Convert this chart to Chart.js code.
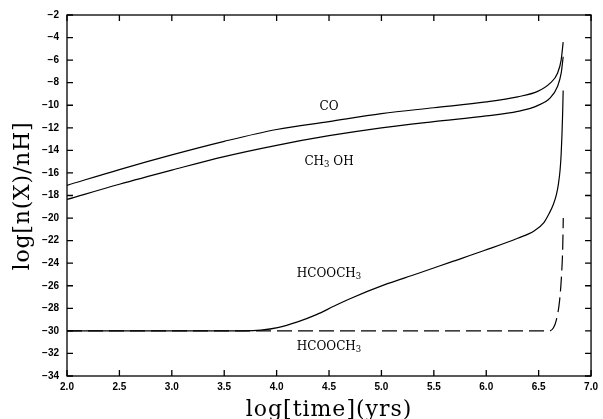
<!DOCTYPE html>
<html>
<head>
<meta charset="utf-8">
<script src="https://cdn.jsdelivr.net/npm/chart.js@4.4.1/dist/chart.umd.min.js"></script>
<style>
  html, body { margin: 0; padding: 0; background: #fff; }
  #wrap { width: 603px; height: 419px; position: relative; }
</style>
</head>
<body>
<div id="wrap"><canvas id="chart"></canvas></div>
<script>
'use strict';

// ── Data ─────────────────────────────────────────────────────────
const coTime     = [2.0, 2.5, 3.0, 3.5, 4.0, 4.5, 5.0, 5.5, 6.0, 6.3, 6.49, 6.61, 6.68, 6.715, 6.734];
const coAbund    = [-17.1, -15.7, -14.4, -13.2, -12.15, -11.45, -10.75, -10.22, -9.7, -9.25, -8.77, -8.04, -7.16, -5.97, -4.4];

const ch3ohTime  = [2.0, 2.5, 3.0, 3.5, 4.0, 4.5, 5.0, 5.5, 6.0, 6.3, 6.49, 6.61, 6.68, 6.715, 6.734];
const ch3ohAbund = [-18.35, -17.0, -15.75, -14.55, -13.55, -12.7, -12.0, -11.45, -10.95, -10.55, -10.03, -9.35, -8.33, -7.16, -5.7];

const mfTime     = [2.0, 3.7, 3.85, 4.01, 4.2, 4.38, 4.55, 4.7, 5.02, 5.34, 5.66, 5.98, 6.3, 6.46, 6.55, 6.6, 6.64, 6.67, 6.69, 6.705, 6.715, 6.723, 6.729, 6.734];
const mfAbund    = [-30, -30, -29.93, -29.71, -29.2, -28.56, -27.8, -27.15, -25.95, -24.94, -23.91, -22.88, -21.79, -21.12, -20.4, -19.6, -18.8, -17.9, -16.9, -15.7, -14.3, -12.5, -10.7, -8.7];

const mfDashTime  = [2.0, 6.6, 6.64, 6.67, 6.7, 6.72, 6.73, 6.735];
const mfDashAbund = [-30, -30, -29.75, -29.0, -27.3, -24.8, -22.5, -20.0];

const xRange = [2, 7];
const yRange = [-34, -2];
const xStep = 0.5;
const yStep = 2;

// curve labels: text, subscript, tail, anchored at (time, abundance)
const curveLabels = [
    { main: 'CO',     sub: '',  tail: '',    x: 4.5, y: -10.1 },
    { main: 'CH',     sub: '3', tail: ' OH', x: 4.5, y: -15.05 },
    { main: 'HCOOCH', sub: '3', tail: '',    x: 4.5, y: -24.95 },
    { main: 'HCOOCH', sub: '3', tail: '',    x: 4.5, y: -31.45 },
];

const toPoints = (xs, ys) => xs.map((x, i) => ({ x, y: ys[i] }));

// ── Frame, inward ticks, labels and titles ───────────────────────
const framePlugin = {
    id: 'frame',
    afterDraw(chart) {
        const { ctx, chartArea: a, scales: { x, y } } = chart;
        ctx.save();
        ctx.strokeStyle = '#000';
        ctx.lineWidth = 1.3;
        ctx.strokeRect(a.left, a.top, a.right - a.left, a.bottom - a.top);

        ctx.beginPath();
        x.ticks.forEach(t => {
            const px = x.getPixelForValue(t.value);
            ctx.moveTo(px, a.bottom); ctx.lineTo(px, a.bottom - 6);
            ctx.moveTo(px, a.top);    ctx.lineTo(px, a.top + 6);
        });
        y.ticks.forEach(t => {
            const py = y.getPixelForValue(t.value);
            ctx.moveTo(a.left, py);  ctx.lineTo(a.left + 6, py);
            ctx.moveTo(a.right, py); ctx.lineTo(a.right - 6, py);
        });
        ctx.stroke();

        // species labels
        ctx.fillStyle = '#000';
        ctx.textBaseline = 'middle';
        ctx.textAlign = 'left';
        curveLabels.forEach(l => {
            const big = '12px "DejaVu Serif"';
            const small = '8.5px "DejaVu Serif"';
            ctx.font = big;
            const w1 = ctx.measureText(l.main).width;
            const w3 = ctx.measureText(l.tail).width;
            ctx.font = small;
            const w2 = ctx.measureText(l.sub).width;
            const cx = x.getPixelForValue(l.x);
            const cy = y.getPixelForValue(l.y);
            let px = cx - (w1 + w2 + w3) / 2;
            ctx.font = big;
            ctx.fillText(l.main, px, cy);
            px += w1;
            if (l.sub) {
                ctx.font = small;
                ctx.fillText(l.sub, px, cy + 3);
                px += w2;
            }
            ctx.font = big;
            if (l.tail) ctx.fillText(l.tail, px, cy);
        });

        // axis titles
        ctx.font = '22px "DejaVu Serif"';
        ctx.textAlign = 'center';
        ctx.textBaseline = 'alphabetic';
        ctx.letterSpacing = '1px';
        ctx.fillText('log[time](yrs)', (a.left + a.right) / 2, 416);

        ctx.letterSpacing = '0.8px';
        ctx.translate(29, 196);
        ctx.rotate(-Math.PI / 2);
        ctx.fillText('log[n(X)/nH]', 0, 0);
        ctx.restore();
    }
};

// ── Chart ────────────────────────────────────────────────────────
const lineStyle = {
    borderColor: '#000',
    borderWidth: 1.2,
    pointRadius: 0,
    fill: false,
    cubicInterpolationMode: 'monotone',
};

const tickFont = { family: '"Liberation Sans", Arial, sans-serif', size: 10, weight: 'bold' };

new Chart(document.getElementById('chart'), {
    type: 'line',
    data: {
        datasets: [
            { label: 'CO',      data: toPoints(coTime, coAbund),         ...lineStyle },
            { label: 'CH3OH',   data: toPoints(ch3ohTime, ch3ohAbund),   ...lineStyle },
            { label: 'HCOOCH3', data: toPoints(mfTime, mfAbund),         ...lineStyle },
            { label: 'HCOOCH3 (dashed)', data: toPoints(mfDashTime, mfDashAbund), ...lineStyle, borderDash: [15, 6] },
        ]
    },
    options: {
        responsive: true,
        maintainAspectRatio: false,
        animation: false,
        layout: { padding: { top: 15, right: 9, left: 0, bottom: 0 } },
        plugins: { legend: { display: false }, tooltip: { enabled: false } },
        scales: {
            x: {
                type: 'linear',
                min: xRange[0], max: xRange[1],
                grid: { display: false, drawTicks: false },
                border: { display: false },
                ticks: { stepSize: xStep, padding: 5, color: '#000', font: tickFont, maxRotation: 0,
                         callback: v => v.toFixed(1) },
                afterFit: s => { s.height = 43; }
            },
            y: {
                min: yRange[0], max: yRange[1],
                grid: { display: false, drawTicks: false },
                border: { display: false },
                ticks: { stepSize: yStep, padding: 8, color: '#000', font: tickFont,
                         callback: v => (v < 0 ? '\u2212' : '') + Math.abs(v) },
                afterFit: s => { s.width = 67; }
            }
        }
    },
    plugins: [framePlugin]
});
</script>
</body>
</html>
